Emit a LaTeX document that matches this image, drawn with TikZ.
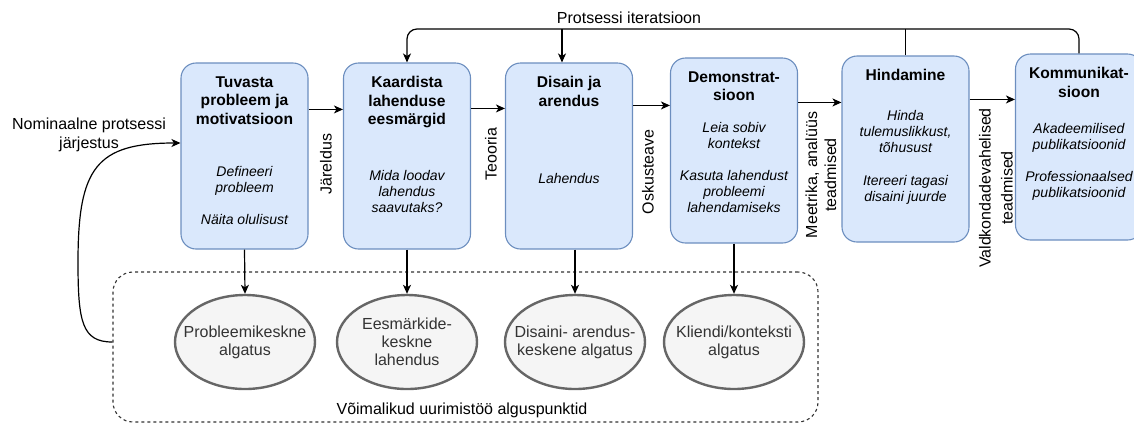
\documentclass[tikz,border=0pt]{standalone}
\usepackage{fontspec}
\setmainfont{Liberation Sans}
\usetikzlibrary{positioning}
\usetikzlibrary{arrows.meta}
\usetikzlibrary{shapes}
\definecolor{stagefill}{HTML}{DAE8FC}
\definecolor{stagedraw}{HTML}{6C8EBF}
\definecolor{startfill}{HTML}{F5F5F5}
\definecolor{startdraw}{HTML}{666666}
\definecolor{starttext}{HTML}{333333}
\tikzset{
        txtnode/.style={align=center,inner sep=0pt},
        % Process stages
        node_stage/.style={rectangle, rounded corners=15pt, draw=stagedraw, fill=stagefill, line width=1.1pt, minimum width=127pt, minimum height=186pt},
        % Stage titles and contents
        node_title/.style={txtnode, anchor=north, font=\fontsize{15.6}{18.5}\selectfont\bfseries},
        node_body/.style={txtnode, font=\fontsize{14}{16}\selectfont\itshape},
        % Possible entry points
        node_start/.style={ellipse, draw=startdraw, fill=startfill, line width=2.4pt, minimum width=140pt, minimum height=94pt, inner sep=0pt},
        node_start_text/.style={txtnode, text=starttext, font=\fontsize{16}{18}\selectfont},
        % Group of entry points
        node_group/.style={rectangle, rounded corners=20pt, draw=black!80, line width=1.1pt, dash pattern=on 3pt off 3pt, minimum width=705pt, minimum height=150pt},
        % Plain labels
        node_label/.style={txtnode, font=\fontsize{16}{19}\selectfont}
}

\begin{document}
\begin{tikzpicture}[
            x=1pt, y=-1pt,
            edge_line/.style={line width=1.2pt},
            edge_flow/.style={edge_line, -{Stealth[length=9pt,width=8pt,inset=2.5pt]}}
        ]
            \useasboundingbox (0,0) rectangle (1134,424);
            % stages
            \node[node_stage] (b1) at (244.5,156) {};
            \node[node_stage] (b2) at (407,156) {};
            \node[node_stage] (b3) at (569,156) {};
            \node[node_stage, minimum height=185pt] (b4) at (734,150.5) {};
            \node[node_stage] (b5) at (905.5,149) {};
            \node[node_stage] (b6) at (1079,147) {};

            \node[node_title, below=14pt of b1.north] (t1) {Tuvasta\\probleem ja\\motivatsioon};
            \node[node_title, below=14pt of b2.north] (t2) {Kaardista\\lahenduse\\eesmärgid};
            \node[node_title, below=14pt of b3.north] (t3) {Disain ja\\arendus};
            \node[node_title, below=14pt of b4.north] (t4) {Demonstrat-\\sioon};
            \node[node_title, below=14pt of b5.north] (t5) {Hindamine};
            \node[node_title, below=14pt of b6.north] (t6) {Kommunikat-\\sioon};

            \node[node_body] (d1) at (244.5,195) {Defineeri\\probleem\\[16pt]Näita olulisust};
            \node[node_body] (d2) at (407,191) {Mida loodav\\lahendus\\saavutaks?};
            \node[node_body] (d3) at (569,178) {Lahendus};
            \node[node_body] (d4) at (734,167) {Leia sobiv\\kontekst\\[16pt]Kasuta lahendust\\probleemi\\lahendamiseks};
            \node[node_body] (d5) at (905.5,157) {Hinda\\tulemuslikkust,\\tõhusust\\[17pt]Itereeri tagasi\\disaini juurde};
            \node[node_body] (d6) at (1079,162) {Akadeemilised\\publikatsioonid\\[16pt]Professionaalsed\\publikatsioonid};

            % flow between stages
            \draw[edge_flow] ([yshift=-47pt]b1.north east) -- ([yshift=-47pt]b1.north east -| b2.west);
            \draw[edge_flow] ([yshift=-46pt]b2.north east) -- ([yshift=-46pt]b2.north east -| b3.west);
            \draw[edge_flow] ([yshift=-43pt]b3.north east) -- ([yshift=-43pt]b3.north east -| b4.west);
            \draw[edge_flow] ([yshift=-45pt]b4.north east) -- ([yshift=-45pt]b4.north east -| b5.west);
            \draw[edge_flow] ([yshift=-44pt]b5.north east) -- ([yshift=-44pt]b5.north east -| b6.west);

            \node[node_label, rotate=90] (l1) at (326,164) {Järeldus};
            \node[node_label, rotate=90] (l2) at (491,154) {Teooria};
            \node[node_label, rotate=90] (l3) at (648,172) {Oskusteave};
            \node[node_label, rotate=90] (l4) at (821,175) {Meetrika, analüüs\\teadmised};
            \node[node_label, rotate=90, font=\fontsize{16}{22}\selectfont] (l5) at (996,188) {Valdkondadevahelised\\teadmised};

            % iteration
            \coordinate (iter) at (0,29);
            \node[node_label] (iter_lbl) at (629,18) {Protsessi iteratsioon};
            \draw[edge_flow, rounded corners=10pt] (b6.north) |- (iter -| b2.north) -- (b2.north);
            \draw[edge_line] (b5.north) -- (b5.north |- iter);
            \draw[edge_flow] ([xshift=-7pt]b3.north |- iter) -- ([xshift=-7pt]b3.north);

            % entry points
            \node[node_group] (starts) at (465.5,347) {};
            \node[node_label] (starts_lbl) at (462,410) {Võimalikud uurimistöö alguspunktid};
            \node[node_start] (e1) at (245,342) {};
            \node[node_start] (e2) at (407,342) {};
            \node[node_start] (e3) at (575,342) {};
            \node[node_start] (e4) at (734,342) {};
            \node[node_start_text] (s1) at (e1) {Probleemikeskne\\algatus};
            \node[node_start_text] (s2) at (e2) {Eesmärkide-\\keskne\\lahendus};
            \node[node_start_text] (s3) at (e3) {Disaini- arendus-\\keskene algatus};
            \node[node_start_text] (s4) at (e4) {Kliendi/konteksti\\algatus};
            \draw[edge_flow] (b1.south) -- (e1.north);
            \draw[edge_flow] (b2.south) -- (e2.north);
            \draw[edge_flow] (e3.north |- b3.south) -- (e3.north);
            \draw[edge_flow] (b4.south) -- (e4.north);

            % nominal order
            \node[node_label] (nom_lbl) at (89,135) {Nominaalne protsessi\\järjestus};
            \draw[edge_flow] ([yshift=5pt]starts.west) .. controls (82,342) and (78,322) .. (78,262) .. controls (78,168) and (96,143) .. ([yshift=13pt]b1.west);
        \end{tikzpicture}
\end{document}
